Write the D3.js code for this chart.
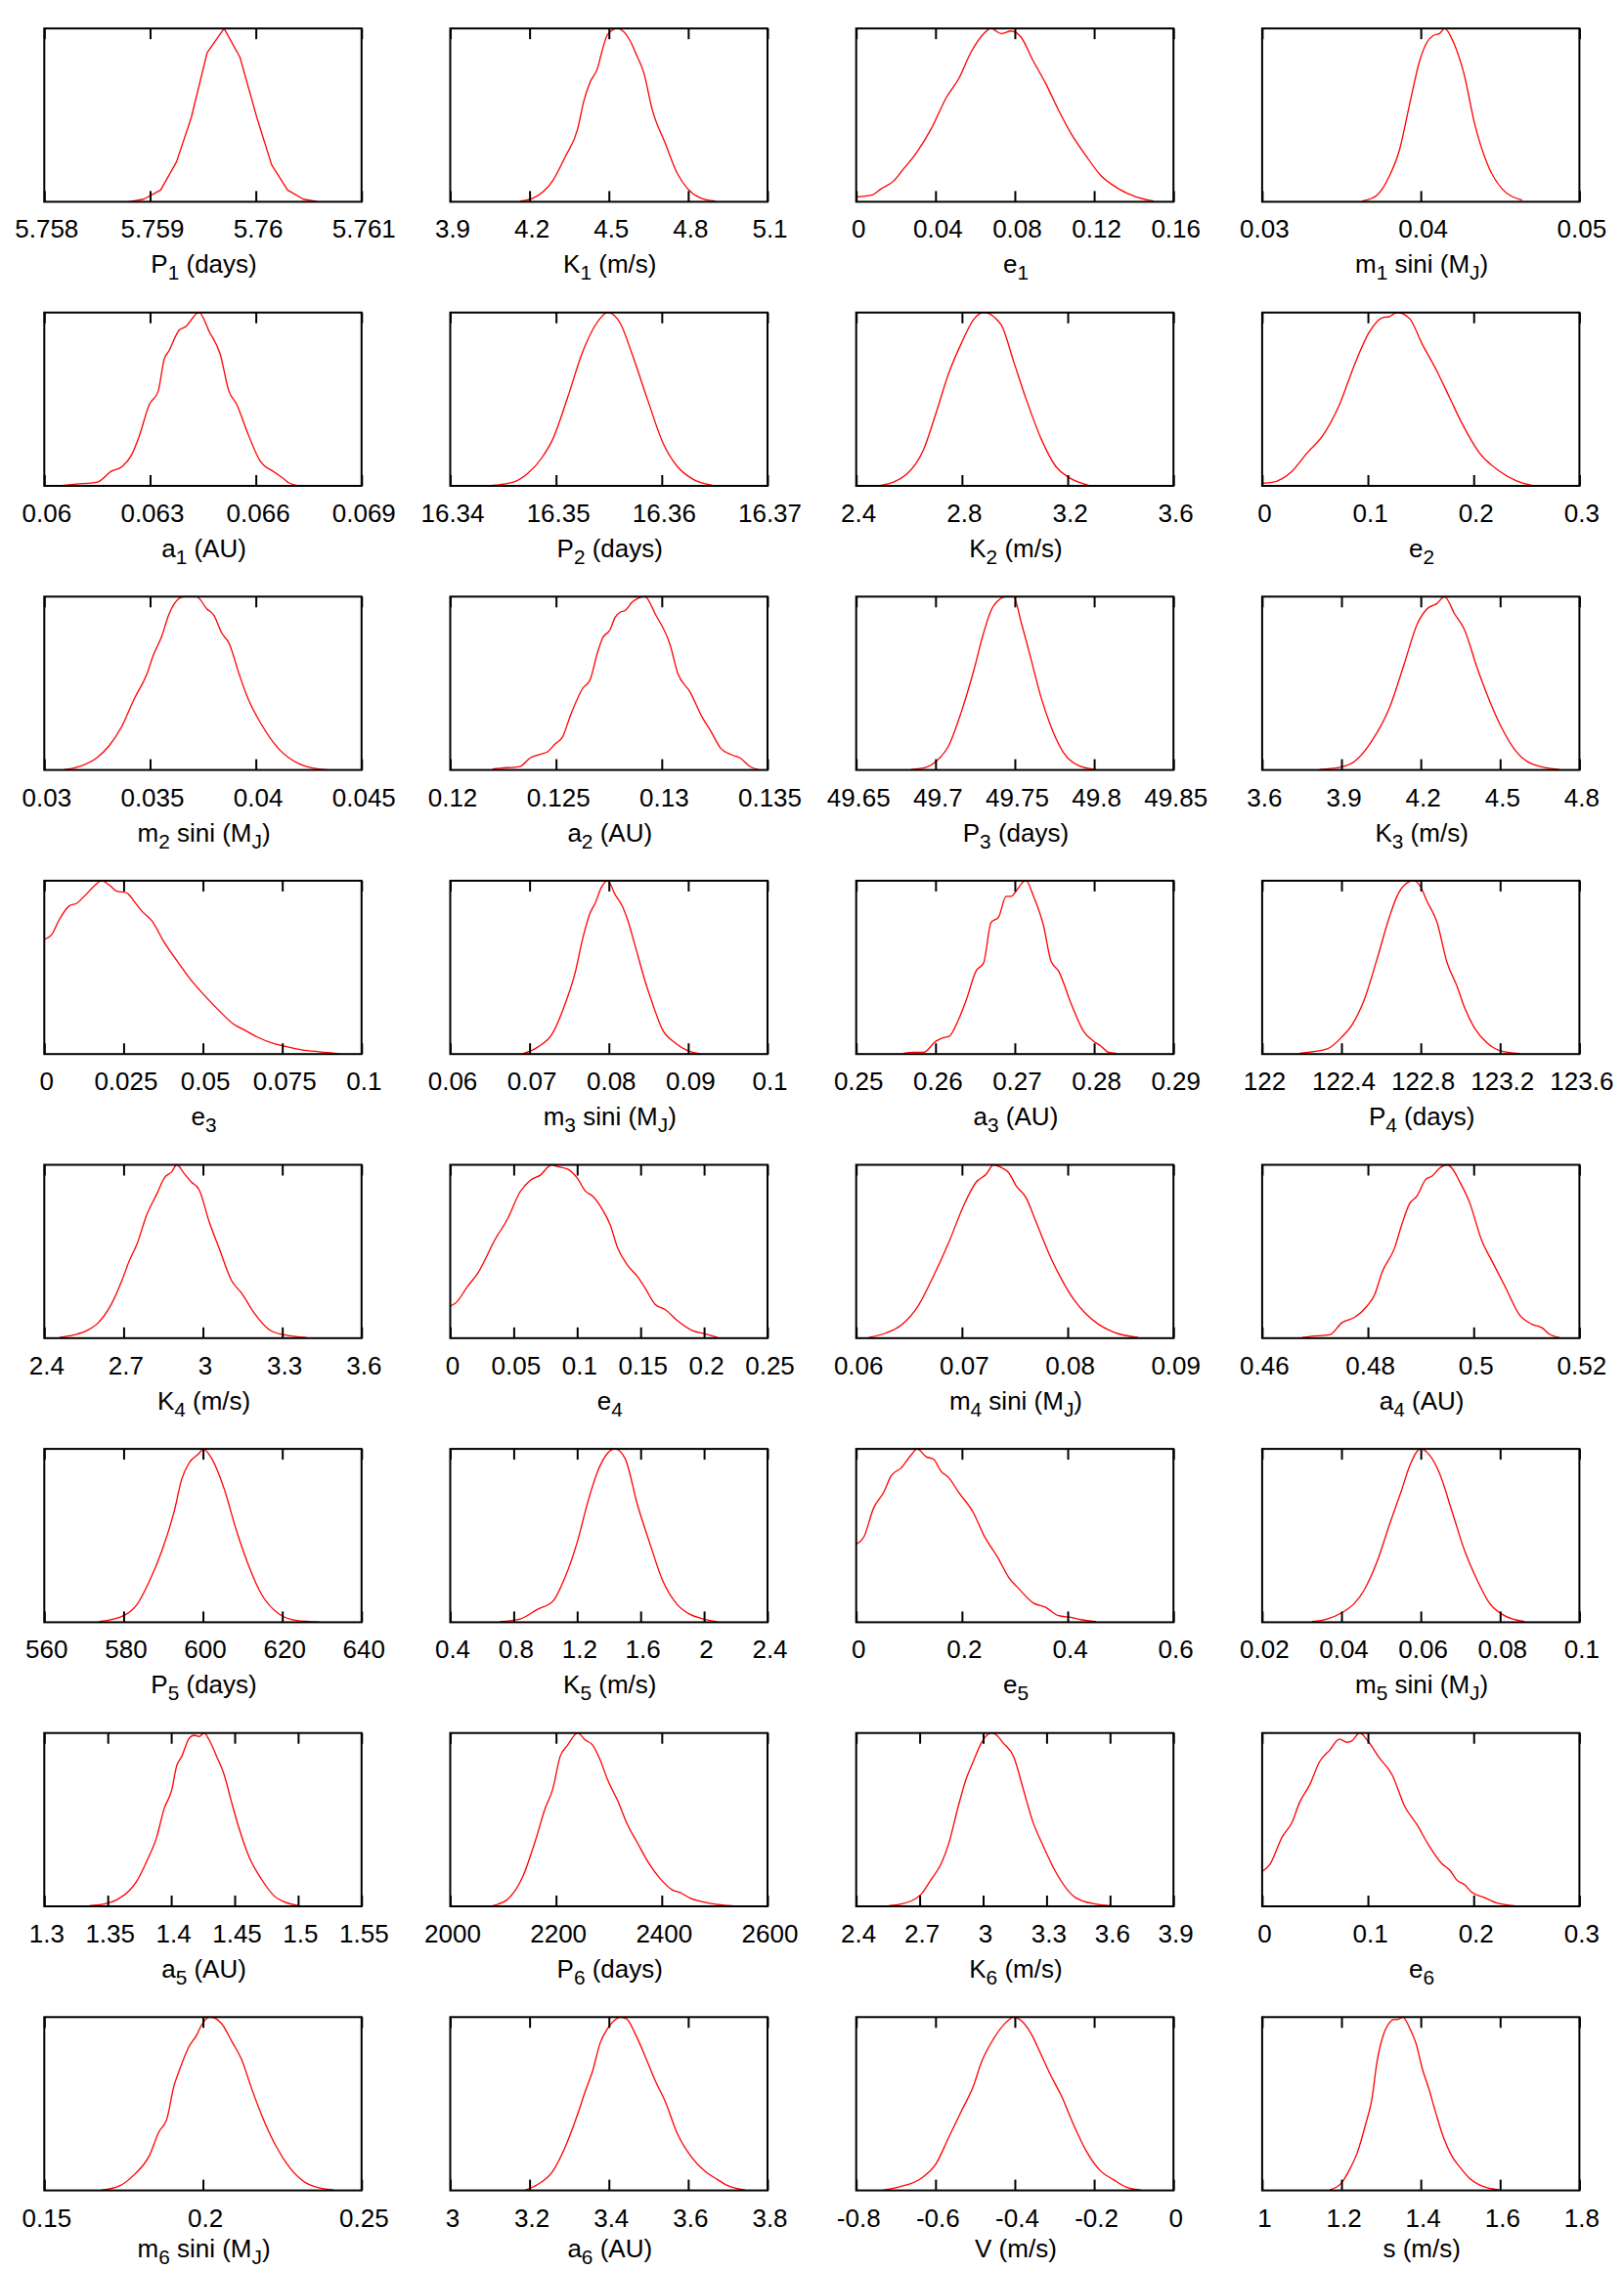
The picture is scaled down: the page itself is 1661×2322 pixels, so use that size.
<!DOCTYPE html>
<html>
<head>
<meta charset="utf-8">
<script src="https://cdn.jsdelivr.net/npm/d3@7"></script>
<style>
  html, body { margin: 0; padding: 0; background: #fff; }
  svg { display: block; }
</style>
</head>
<body>
<script>
// ---------- DATA ----------
const labels = [
  "P_1 (days)", "K_1 (m/s)", "e_1", "m_1 sini (M_J)",
  "a_1 (AU)", "P_2 (days)", "K_2 (m/s)", "e_2",
  "m_2 sini (M_J)", "a_2 (AU)", "P_3 (days)", "K_3 (m/s)",
  "e_3", "m_3 sini (M_J)", "a_3 (AU)", "P_4 (days)",
  "K_4 (m/s)", "e_4", "m_4 sini (M_J)", "a_4 (AU)",
  "P_5 (days)", "K_5 (m/s)", "e_5", "m_5 sini (M_J)",
  "a_5 (AU)", "P_6 (days)", "K_6 (m/s)", "e_6",
  "m_6 sini (M_J)", "a_6 (AU)", "V (m/s)", "s (m/s)"
];

const ticksP1 = [5.758, 5.759, 5.76, 5.761];
const ticksK1 = [3.9, 4.2, 4.5, 4.8, 5.1];
const ticksE1 = [0, 0.04, 0.08, 0.12, 0.16];
const ticksM1 = [0.03, 0.04, 0.05];
const ticksA1 = [0.06, 0.063, 0.066, 0.069];
const ticksP2 = [16.34, 16.35, 16.36, 16.37];
const ticksK2 = [2.4, 2.8, 3.2, 3.6];
const ticksE2 = [0, 0.1, 0.2, 0.3];
const ticksM2 = [0.03, 0.035, 0.04, 0.045];
const ticksA2 = [0.12, 0.125, 0.13, 0.135];
const ticksP3 = [49.65, 49.7, 49.75, 49.8, 49.85];
const ticksK3 = [3.6, 3.9, 4.2, 4.5, 4.8];
const ticksE3 = [0, 0.025, 0.05, 0.075, 0.1];
const ticksM3 = [0.06, 0.07, 0.08, 0.09, 0.1];
const ticksA3 = [0.25, 0.26, 0.27, 0.28, 0.29];
const ticksP4 = [122, 122.4, 122.8, 123.2, 123.6];
const ticksK4 = [2.4, 2.7, 3, 3.3, 3.6];
const ticksE4 = [0, 0.05, 0.1, 0.15, 0.2, 0.25];
const ticksM4 = [0.06, 0.07, 0.08, 0.09];
const ticksA4 = [0.46, 0.48, 0.5, 0.52];
const ticksP5 = [560, 580, 600, 620, 640];
const ticksK5 = [0.4, 0.8, 1.2, 1.6, 2, 2.4];
const ticksE5 = [0, 0.2, 0.4, 0.6];
const ticksM5 = [0.02, 0.04, 0.06, 0.08, 0.1];
const ticksA5 = [1.3, 1.35, 1.4, 1.45, 1.5, 1.55];
const ticksP6 = [2000, 2200, 2400, 2600];
const ticksK6 = [2.4, 2.7, 3, 3.3, 3.6, 3.9];
const ticksE6 = [0, 0.1, 0.2, 0.3];
const ticksM6 = [0.15, 0.2, 0.25];
const ticksA6 = [3, 3.2, 3.4, 3.6, 3.8];
const ticksV  = [-0.8, -0.6, -0.4, -0.2, 0];
const ticksS  = [1, 1.2, 1.4, 1.6, 1.8];

// normalized posterior densities: [value, relative density]
const pdfP1 = [[5.7588,0],[5.75894,0.015],[5.7591,0.068],[5.75925,0.23],[5.75939,0.486],[5.75954,0.86],[5.7597,1],[5.75985,0.834],[5.76001,0.486],[5.76015,0.213],[5.7603,0.068],[5.76045,0.015],[5.76058,0.002]];
const pdfK1 = [[4.165,0.004],[4.212,0.02],[4.287,0.12],[4.335,0.26],[4.382,0.42],[4.405,0.58],[4.429,0.69],[4.457,0.77],[4.476,0.88],[4.495,0.965],[4.533,1],[4.58,0.93],[4.605,0.846],[4.631,0.75],[4.665,0.526],[4.713,0.338],[4.76,0.16],[4.798,0.075],[4.845,0.023],[4.902,0.004]];
const pdfE1 = [[0,0.028],[0.0076,0.038],[0.0126,0.075],[0.0189,0.12],[0.0239,0.19],[0.0302,0.28],[0.0378,0.42],[0.0454,0.6],[0.0517,0.71],[0.058,0.865],[0.0643,0.97],[0.068,1],[0.0731,0.97],[0.0781,0.985],[0.0831,0.95],[0.0894,0.81],[0.0957,0.68],[0.102,0.53],[0.1083,0.395],[0.1159,0.265],[0.1235,0.15],[0.1323,0.075],[0.1411,0.028],[0.15,0.004]];
const pdfM1 = [[0.0363,0.004],[0.03724,0.038],[0.03803,0.15],[0.03866,0.3],[0.03929,0.56],[0.03992,0.81],[0.04039,0.92],[0.0408,0.96],[0.04118,0.97],[0.0415,1],[0.04206,0.92],[0.04269,0.75],[0.04345,0.43],[0.04433,0.19],[0.04512,0.075],[0.04638,0.01]];
const pdfA1 = [[0.06043,0],[0.06092,0.01],[0.06149,0.02],[0.06191,0.085],[0.0622,0.11],[0.06248,0.18],[0.06269,0.285],[0.06298,0.47],[0.06323,0.545],[0.0634,0.73],[0.06354,0.78],[0.06383,0.9],[0.064,0.917],[0.06439,1],[0.06468,0.89],[0.06499,0.76],[0.06524,0.545],[0.06546,0.47],[0.06574,0.32],[0.06612,0.145],[0.06652,0.08],[0.0668,0.04],[0.06694,0.017],[0.0673,0]];
const pdfP2 = [[16.344,0.003],[16.3459,0.02],[16.3473,0.07],[16.3487,0.165],[16.3497,0.27],[16.3511,0.51],[16.3525,0.77],[16.3537,0.925],[16.3549,1],[16.3561,0.935],[16.3572,0.76],[16.3587,0.49],[16.3601,0.25],[16.3615,0.11],[16.3629,0.04],[16.3648,0.003]];
const pdfK2 = [[2.494,0.003],[2.589,0.065],[2.655,0.21],[2.702,0.42],[2.75,0.65],[2.797,0.82],[2.844,0.96],[2.882,1],[2.948,0.93],[2.995,0.72],[3.043,0.5],[3.1,0.27],[3.156,0.11],[3.203,0.05],[3.279,0.003]];
const pdfE2 = [[0,0.015],[0.0094,0.02],[0.0283,0.085],[0.0425,0.19],[0.0567,0.285],[0.0732,0.47],[0.0874,0.7],[0.1016,0.89],[0.1134,0.97],[0.1205,0.977],[0.1276,1],[0.1394,0.965],[0.1512,0.82],[0.1654,0.66],[0.1772,0.51],[0.189,0.36],[0.2055,0.19],[0.2244,0.085],[0.241,0.028],[0.2551,0.003]];
const pdfM2 = [[0.03094,0.002],[0.03165,0.02],[0.03248,0.07],[0.03307,0.14],[0.03366,0.25],[0.03425,0.41],[0.03484,0.55],[0.03515,0.66],[0.03555,0.77],[0.0359,0.9],[0.03638,0.99],[0.03661,1],[0.0372,1],[0.03768,0.93],[0.03803,0.89],[0.03839,0.79],[0.03874,0.73],[0.03922,0.55],[0.03957,0.43],[0.04028,0.26],[0.0411,0.12],[0.04205,0.035],[0.04299,0.005],[0.04346,0]];
const pdfA2 = [[0.122,0.005],[0.12236,0.01],[0.1233,0.02],[0.12378,0.07],[0.12425,0.09],[0.1246,0.105],[0.12496,0.15],[0.12531,0.19],[0.12567,0.31],[0.12626,0.47],[0.12661,0.52],[0.12697,0.68],[0.1272,0.76],[0.12756,0.81],[0.12779,0.88],[0.12803,0.91],[0.12827,0.92],[0.12862,0.97],[0.12921,1],[0.12969,0.9],[0.1304,0.72],[0.13075,0.56],[0.13134,0.45],[0.13193,0.3],[0.13229,0.23],[0.13276,0.13],[0.13335,0.085],[0.1337,0.07],[0.13417,0.02],[0.13465,0]];
const pdfP3 = [[49.6846,0.002],[49.6941,0.015],[49.7004,0.05],[49.7083,0.14],[49.7161,0.33],[49.724,0.57],[49.7303,0.79],[49.735,0.92],[49.7413,0.99],[49.7444,1],[49.7492,1],[49.7539,0.855],[49.7602,0.64],[49.7665,0.42],[49.7728,0.25],[49.7807,0.1],[49.7902,0.025],[49.8012,0.002]];
const pdfK3 = [[3.817,0.002],[3.893,0.015],[3.95,0.05],[4.016,0.17],[4.082,0.36],[4.139,0.62],[4.186,0.84],[4.224,0.93],[4.261,0.96],[4.29,1],[4.328,0.9],[4.365,0.81],[4.413,0.59],[4.46,0.4],[4.507,0.24],[4.554,0.12],[4.62,0.035],[4.724,0.002]];
const pdfE3 = [[0,0.66],[0.00236,0.69],[0.00472,0.775],[0.00787,0.855],[0.01024,0.87],[0.0126,0.91],[0.01575,0.97],[0.01811,1],[0.02047,0.975],[0.02283,0.94],[0.02598,0.93],[0.02835,0.88],[0.03071,0.825],[0.03386,0.77],[0.0378,0.645],[0.04252,0.52],[0.04567,0.44],[0.0504,0.34],[0.05512,0.25],[0.05984,0.17],[0.06299,0.14],[0.06693,0.1],[0.07244,0.06],[0.07638,0.043],[0.0811,0.025],[0.08661,0.013],[0.09291,0.002]];
const pdfM3 = [[0.06913,0.002],[0.07102,0.04],[0.07291,0.12],[0.07449,0.29],[0.07575,0.47],[0.07669,0.665],[0.07764,0.815],[0.07827,0.87],[0.07909,0.965],[0.07984,1],[0.08079,0.92],[0.08173,0.85],[0.08236,0.775],[0.08331,0.625],[0.08457,0.42],[0.08551,0.29],[0.08677,0.14],[0.08835,0.065],[0.08992,0.02],[0.0915,0.002]];
const pdfA3 = [[0.25598,0.005],[0.25724,0.01],[0.2585,0.01],[0.26008,0.075],[0.26102,0.095],[0.26165,0.1],[0.26291,0.2],[0.26386,0.31],[0.26512,0.48],[0.26606,0.525],[0.26701,0.76],[0.26795,0.79],[0.2689,0.91],[0.26953,0.91],[0.27016,0.94],[0.2711,0.995],[0.27142,1],[0.27236,0.91],[0.27362,0.74],[0.27457,0.535],[0.27551,0.48],[0.2771,0.29],[0.27868,0.13],[0.27992,0.075],[0.28087,0.045],[0.28181,0.01],[0.28276,0.005]];
const pdfP4 = [[122.189,0.005],[122.328,0.03],[122.403,0.1],[122.454,0.17],[122.517,0.32],[122.58,0.55],[122.643,0.795],[122.68,0.91],[122.718,0.975],[122.764,1],[122.794,0.975],[122.832,0.88],[122.882,0.76],[122.932,0.53],[122.983,0.39],[123.02,0.27],[123.071,0.15],[123.134,0.065],[123.197,0.02],[123.298,0.003]];
const pdfK4 = [[2.457,0.004],[2.513,0.019],[2.561,0.043],[2.598,0.08],[2.655,0.2],[2.693,0.33],[2.721,0.445],[2.75,0.54],[2.787,0.71],[2.825,0.83],[2.854,0.925],[2.882,0.96],[2.901,1],[2.929,0.95],[2.957,0.9],[2.986,0.855],[3.024,0.67],[3.061,0.52],[3.109,0.33],[3.146,0.26],[3.194,0.145],[3.25,0.05],[3.307,0.019],[3.392,0.004]];
const pdfE4 = [[0,0.185],[0.0039,0.2],[0.0138,0.3],[0.0217,0.375],[0.0354,0.57],[0.0453,0.69],[0.0551,0.845],[0.063,0.91],[0.0709,0.94],[0.0799,1],[0.0846,0.99],[0.0925,0.975],[0.1004,0.92],[0.1063,0.85],[0.1122,0.82],[0.1201,0.74],[0.126,0.655],[0.1319,0.52],[0.1398,0.42],[0.1476,0.355],[0.1535,0.29],[0.1614,0.195],[0.1693,0.165],[0.1791,0.1],[0.1909,0.043],[0.2008,0.025],[0.2106,0.004]];
const pdfM4 = [[0.06118,0.004],[0.06283,0.03],[0.06425,0.075],[0.0659,0.19],[0.06709,0.33],[0.06874,0.55],[0.07016,0.765],[0.07134,0.9],[0.07228,0.945],[0.07299,1],[0.0737,0.985],[0.07441,0.955],[0.07512,0.88],[0.07606,0.81],[0.07701,0.67],[0.07843,0.46],[0.07937,0.345],[0.08055,0.225],[0.08173,0.14],[0.08291,0.08],[0.08433,0.035],[0.08669,0.004]];
const pdfA4 = [[0.46756,0.004],[0.46898,0.01],[0.47276,0.019],[0.47512,0.09],[0.47748,0.12],[0.47984,0.185],[0.48126,0.25],[0.48268,0.38],[0.48504,0.52],[0.48646,0.66],[0.48787,0.775],[0.48929,0.82],[0.4909,0.915],[0.49213,0.935],[0.49354,0.98],[0.49496,1],[0.4959,0.98],[0.49732,0.905],[0.4992,0.785],[0.50157,0.56],[0.50346,0.445],[0.50583,0.305],[0.50866,0.135],[0.51102,0.08],[0.51291,0.06],[0.51433,0.023],[0.51622,0.004]];
const pdfP5 = [[573.86,0.004],[580.16,0.04],[583.31,0.1],[586.46,0.235],[589.61,0.41],[592.76,0.64],[594.65,0.825],[596.54,0.92],[599.06,0.975],[600.06,1],[602.2,0.945],[605.35,0.77],[608.5,0.525],[611.65,0.32],[614.8,0.16],[619.21,0.047],[623.62,0.01],[629.29,0.002]];
const pdfK5 = [[0.715,0.004],[0.841,0.019],[0.951,0.075],[1.046,0.12],[1.124,0.26],[1.203,0.47],[1.266,0.69],[1.329,0.87],[1.392,0.975],[1.439,1],[1.502,0.945],[1.581,0.675],[1.66,0.45],[1.739,0.24],[1.833,0.1],[1.912,0.045],[1.991,0.02],[2.085,0.002]];
const pdfE5 = [[0,0.45],[0.0142,0.49],[0.0331,0.66],[0.052,0.75],[0.0661,0.845],[0.085,0.89],[0.1039,0.965],[0.1153,1],[0.1323,0.955],[0.1465,0.94],[0.1606,0.87],[0.1748,0.835],[0.1937,0.75],[0.222,0.63],[0.2409,0.505],[0.2693,0.365],[0.2882,0.26],[0.3071,0.195],[0.3354,0.11],[0.3591,0.085],[0.3827,0.038],[0.4063,0.028],[0.4252,0.015],[0.4535,0.004]];
const pdfM5 = [[0.0326,0.004],[0.03638,0.019],[0.04016,0.056],[0.04331,0.11],[0.04583,0.19],[0.04898,0.35],[0.05213,0.565],[0.05528,0.77],[0.05717,0.9],[0.05994,1],[0.0622,0.965],[0.06472,0.86],[0.06787,0.64],[0.07102,0.415],[0.07417,0.245],[0.07732,0.11],[0.0811,0.038],[0.08614,0.004]];
const pdfA5 = [[1.3354,0.004],[1.3472,0.013],[1.3571,0.037],[1.3669,0.09],[1.3728,0.145],[1.3807,0.26],[1.3886,0.4],[1.3945,0.565],[1.4004,0.67],[1.4043,0.81],[1.4083,0.865],[1.4142,0.97],[1.4181,0.987],[1.422,0.98],[1.426,1],[1.4299,0.96],[1.4358,0.865],[1.4417,0.76],[1.4476,0.6],[1.4535,0.45],[1.4614,0.285],[1.4713,0.155],[1.4811,0.06],[1.489,0.026],[1.5008,0.004]];
const pdfP6 = [[2080.3,0.004],[2108.7,0.041],[2137,0.17],[2160.6,0.375],[2179.5,0.565],[2193.7,0.675],[2207.9,0.865],[2222,0.93],[2240.9,1],[2255.1,0.96],[2269.3,0.93],[2283.5,0.845],[2297.6,0.73],[2316.5,0.61],[2335.4,0.47],[2354.3,0.365],[2373.2,0.26],[2396.9,0.16],[2420.5,0.094],[2434.6,0.08],[2453.5,0.047],[2477.2,0.026],[2505.5,0.011],[2533.9,0.004]];
const pdfK6 = [[2.5535,0.004],[2.6126,0.013],[2.7071,0.07],[2.7543,0.155],[2.8016,0.245],[2.837,0.36],[2.8843,0.585],[2.9197,0.735],[2.9551,0.84],[2.9906,0.94],[3.0378,1],[3.0614,0.99],[3.0969,0.94],[3.1441,0.865],[3.1913,0.67],[3.2346,0.49],[3.2835,0.35],[3.3425,0.2],[3.437,0.05],[3.5315,0.013],[3.6024,0.004]];
const pdfE6 = [[0,0.2],[0.0071,0.24],[0.0189,0.4],[0.0283,0.485],[0.0354,0.6],[0.0449,0.7],[0.0543,0.835],[0.0638,0.9],[0.0732,0.965],[0.0803,0.946],[0.085,0.955],[0.0921,1],[0.0992,0.96],[0.111,0.855],[0.1228,0.76],[0.1346,0.58],[0.1465,0.47],[0.1583,0.345],[0.1701,0.245],[0.1772,0.21],[0.1843,0.15],[0.1913,0.125],[0.1984,0.08],[0.2102,0.05],[0.222,0.019],[0.2386,0.004]];
const pdfM6 = [[0.1681,0.002],[0.1736,0.025],[0.1783,0.09],[0.1831,0.2],[0.1862,0.34],[0.1886,0.41],[0.1909,0.605],[0.1925,0.69],[0.1956,0.83],[0.198,0.895],[0.1996,0.955],[0.202,1],[0.2035,0.996],[0.2059,0.962],[0.2091,0.86],[0.2122,0.755],[0.2154,0.585],[0.2193,0.4],[0.2232,0.25],[0.2272,0.135],[0.2319,0.05],[0.2366,0.015],[0.2413,0.002]];
const pdfA6 = [[3.189,0.002],[3.2205,0.034],[3.2583,0.11],[3.2898,0.25],[3.3213,0.44],[3.3402,0.57],[3.3591,0.69],[3.378,0.85],[3.3969,0.935],[3.4157,0.985],[3.4283,1],[3.4447,0.99],[3.4661,0.905],[3.4913,0.775],[3.5165,0.635],[3.5417,0.515],[3.5732,0.325],[3.611,0.185],[3.6425,0.11],[3.674,0.062],[3.6992,0.028],[3.7433,0.002]];
const pdfV  = [[-0.7307,0.002],[-0.6929,0.02],[-0.6362,0.07],[-0.5984,0.155],[-0.5669,0.305],[-0.5354,0.455],[-0.5039,0.605],[-0.485,0.735],[-0.4535,0.875],[-0.422,0.97],[-0.4031,1],[-0.3843,0.98],[-0.3591,0.905],[-0.3339,0.785],[-0.3087,0.66],[-0.2835,0.55],[-0.252,0.38],[-0.2205,0.23],[-0.1827,0.11],[-0.1512,0.062],[-0.1197,0.02],[-0.0819,0.002]];
const pdfS  = [[1.1705,0.004],[1.1992,0.041],[1.2197,0.117],[1.2402,0.22],[1.2607,0.38],[1.277,0.53],[1.2893,0.737],[1.3057,0.897],[1.3221,0.97],[1.3303,0.985],[1.3426,0.987],[1.3549,1],[1.3713,0.94],[1.3877,0.85],[1.4041,0.7],[1.4205,0.586],[1.4369,0.455],[1.4574,0.305],[1.4779,0.2],[1.4984,0.135],[1.523,0.07],[1.5475,0.032],[1.5721,0.013],[1.5967,0.004]];

const tickSets = [ticksP1,ticksK1,ticksE1,ticksM1,ticksA1,ticksP2,ticksK2,ticksE2,
  ticksM2,ticksA2,ticksP3,ticksK3,ticksE3,ticksM3,ticksA3,ticksP4,
  ticksK4,ticksE4,ticksM4,ticksA4,ticksP5,ticksK5,ticksE5,ticksM5,
  ticksA5,ticksP6,ticksK6,ticksE6,ticksM6,ticksA6,ticksV,ticksS];
const pdfSets = [pdfP1,pdfK1,pdfE1,pdfM1,pdfA1,pdfP2,pdfK2,pdfE2,
  pdfM2,pdfA2,pdfP3,pdfK3,pdfE3,pdfM3,pdfA3,pdfP4,
  pdfK4,pdfE4,pdfM4,pdfA4,pdfP5,pdfK5,pdfE5,pdfM5,
  pdfA5,pdfP6,pdfK6,pdfE6,pdfM6,pdfA6,pdfV,pdfS];

// ---------- LAYOUT ----------
const WIDTH = 1661, HEIGHT = 2322;
const X0 = 45.3, DX = 415.2, Y0 = 29.1, DY = 290.6, PW = 324.5, PH = 177.3;
const FONT = "'Liberation Sans', Arial, Helvetica, sans-serif";
const FS = 26, SUB = 20.8, SUBDY = 7;

const svg = d3.select("body").append("svg")
  .attr("width", WIDTH).attr("height", HEIGHT)
  .attr("viewBox", `0 0 ${WIDTH} ${HEIGHT}`);

const panels = labels.map((lab, i) => ({ label: lab, ticks: tickSets[i], data: pdfSets[i] }));
const nRows = Math.ceil(panels.length / 4);

panels.forEach((p, i) => {
  const col = i % 4, row = Math.floor(i / 4);
  const g = svg.append("g")
    .attr("transform", `translate(${X0 + col * DX},${Y0 + row * DY})`);

  const x = d3.scaleLinear().domain([p.ticks[0], p.ticks[p.ticks.length - 1]]).range([0, PW]);
  const y = d3.scaleLinear().domain([0, 1]).range([PH, 0]);

  // curve
  const line = d3.line()
    .x(d => x(d[0])).y(d => y(d[1]))
    .curve(i === 0 ? d3.curveLinear : d3.curveMonotoneX);
  g.append("path").datum(p.data)
    .attr("d", line)
    .attr("fill", "none")
    .attr("stroke", "#ff0000")
    .attr("stroke-width", 1.3)
    .attr("stroke-linejoin", "round");

  // bottom axis (inward ticks + labels)
  const fmt = d => String(+d.toPrecision(10));
  const bottom = g.append("g").attr("transform", `translate(0,${PH})`)
    .call(d3.axisBottom(x).tickValues(p.ticks).tickFormat(fmt)
      .tickSizeInner(-11).tickSizeOuter(0).tickPadding(18.5));
  bottom.attr("font-size", FS).attr("font-family", FONT);
  bottom.select(".domain").remove();
  bottom.selectAll(".tick line").attr("stroke", "#000").attr("stroke-width", 2);
  bottom.selectAll(".tick text").attr("fill", "#000").attr("dx", 2);

  // top mirror ticks
  const top = g.append("g")
    .call(d3.axisTop(x).tickValues(p.ticks).tickFormat("")
      .tickSizeInner(-11).tickSizeOuter(0));
  top.select(".domain").remove();
  top.selectAll(".tick text").remove();
  top.selectAll(".tick line").attr("stroke", "#000").attr("stroke-width", 2);

  // frame
  g.append("rect")
    .attr("x", 0).attr("y", 0).attr("width", PW).attr("height", PH)
    .attr("fill", "none").attr("stroke", "#000").attr("stroke-width", 2);

  // axis title with subscripts (gnuplot-style "_x")
  const titleOffset = row === nRows - 1 ? 68 : 73;
  const t = g.append("text")
    .attr("x", PW / 2 + 1).attr("y", PH + titleOffset)
    .attr("text-anchor", "middle")
    .attr("font-family", FONT).attr("font-size", FS).attr("fill", "#000");
  const parts = p.label.split(/(_.)/).filter(s => s.length);
  let shifted = false;
  parts.forEach(s => {
    if (s[0] === "_") {
      t.append("tspan").attr("font-size", SUB).attr("dy", SUBDY).text(s.slice(1));
      shifted = true;
    } else {
      const ts = t.append("tspan").text(s);
      if (shifted) { ts.attr("dy", -SUBDY); shifted = false; }
    }
  });
});
</script>
</body>
</html>
